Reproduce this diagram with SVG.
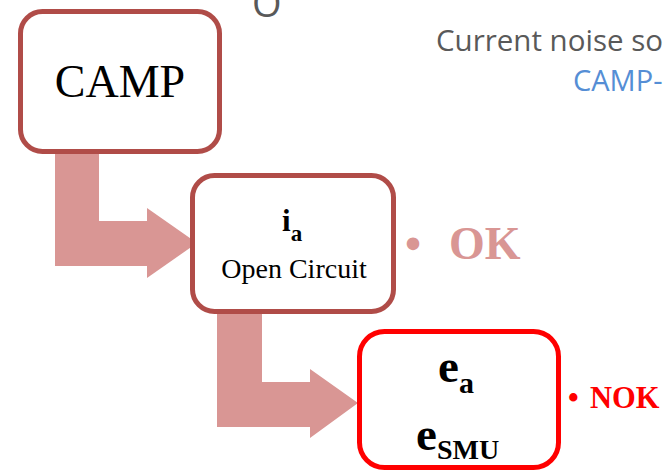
<svg xmlns="http://www.w3.org/2000/svg" width="665" height="471" viewBox="0 0 665 471">
<style>
.box{fill:#ffffff;stroke:#b04c48;stroke-width:5}
.boxr{fill:#ffffff;stroke:#ff0000;stroke-width:5}
.arrow{fill:#d99694;stroke:none}
.serif{font-family:"Liberation Serif","Times New Roman",serif}
.sans{font-family:"Open Sans","Noto Sans",sans-serif}
.b{font-weight:bold}
</style>
<rect width="665" height="471" fill="#ffffff"/>
<text class="sans" x="252" y="17" font-size="38" fill="#595959">O</text>
<text class="sans" x="436" y="51" font-size="29.5" fill="#595959">Current noise so</text>
<text class="sans" x="573" y="91" font-size="29" fill="#558ed5">CAMP-</text>
<g id="connectors">
<polygon class="arrow" points="55,150 99,150 99,221 147,221 147,208 197,243 147,278 147,266 55,266"/>
<polygon class="arrow" points="217,312 262,312 262,382 310,382 310,369 358,403 310,438 310,427 217,427"/>
</g>
<g id="camp">
<rect class="box" x="20.5" y="11.5" width="199" height="140" rx="22"/>
<text class="serif" x="120" y="97" font-size="46" text-anchor="middle">CAMP</text>
</g>
<g id="ia">
<rect class="box" x="192.5" y="175.5" width="201" height="136" rx="22"/>
<text class="serif b" x="282" y="231" font-size="31">i<tspan font-size="23" dy="10">a</tspan></text>
<text class="serif" x="294" y="278" font-size="28" text-anchor="middle">Open Circuit</text>
</g>
<g id="ok">
<text class="serif b" y="259" font-size="46" fill="#d99694"><tspan x="405">•</tspan><tspan x="449">OK</tspan></text>
</g>
<g id="ea">
<rect class="boxr" x="359.5" y="331.5" width="199" height="136" rx="25"/>
<text class="serif b" x="438" y="382" font-size="47">e<tspan font-size="30" dy="11">a</tspan></text>
<text class="serif b" x="416" y="450" font-size="47">e<tspan font-size="28" dy="9">SMU</tspan></text>
</g>
<g id="nok">
<text class="serif b" y="408" font-size="30.5" fill="#ff0000"><tspan x="568">•</tspan><tspan x="590">NOK</tspan></text>
</g>
</svg>
